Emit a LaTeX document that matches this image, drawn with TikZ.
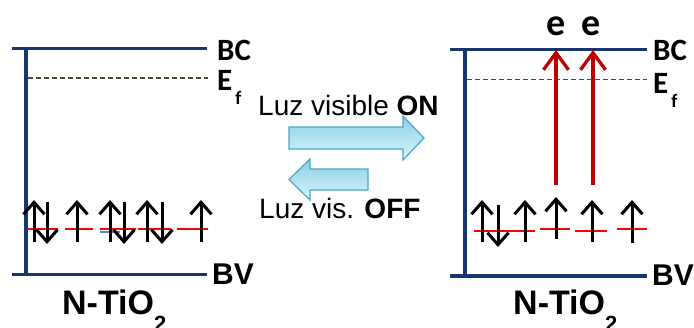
\documentclass[tikz,border=0pt]{standalone}
\usepackage{fontspec}
\setmainfont{Liberation Sans}
\newfontfamily\calib{Carlito}
\usetikzlibrary{arrows.meta}
\definecolor{navy}{RGB}{23,54,110}
\definecolor{olivegray}{RGB}{80,74,52}
\definecolor{darkred}{RGB}{192,0,0}
\definecolor{lvlred}{RGB}{255,0,0}
\definecolor{lvlblue}{RGB}{84,130,190}
\definecolor{arrtop}{RGB}{138,208,228}
\definecolor{arrbot}{RGB}{218,245,252}
\definecolor{arrline}{RGB}{72,168,196}
\begin{document}
\begin{tikzpicture}[x=1pt,y=-1pt,
  band/.style={draw=navy,line width=3.5pt},
  fermi/.style={draw=olivegray,line width=1.5pt,dash pattern=on 5pt off 3pt},
  lvl/.style={draw=lvlred,line width=2pt},
  espin/.style={draw=black,line width=3pt,-{Straight Barb[length=12pt,width=21pt]}},
  excite/.style={draw=darkred,line width=3.3pt,-{Straight Barb[length=17pt,width=25pt]}},
  blockarrow/.style={top color=arrtop,bottom color=arrbot,draw=arrline,line width=1.2pt,line join=miter},
  clab/.style={inner sep=0pt,anchor=base west,font=\calib\bfseries\fontsize{31}{31}\selectfont},
  alab/.style={inner sep=0pt,anchor=base west,font=\bfseries\fontsize{30}{30}\selectfont},
  tlab/.style={inner sep=0pt,anchor=base west,font=\bfseries\fontsize{34}{34}\selectfont},
  luz/.style={inner sep=0pt,anchor=base west,font=\fontsize{28}{28}\selectfont},
  elab/.style={inner sep=0pt,anchor=base,font=\calib\bfseries\fontsize{38}{38}\selectfont}]
\useasboundingbox (0,0) rectangle (694,327);

% ---------- left diagram ----------
\draw[band] (12,48.5) -- (207,48.5);
\draw[band] (12,274.5) -- (207,274.5);
\draw[band] (26,48.5) -- (26,274.5);
\draw[fermi] (28,78) -- (208,78);

\draw[lvl] (27,229) -- (58,229);
\draw[lvl] (65,229) -- (93,229);
\draw[lvl] (100,229) -- (136,229);
\draw[draw=lvlblue,line width=2pt] (100,232) -- (120,232);
\draw[lvl] (138,229) -- (171,229);
\draw[lvl] (177,229) -- (208,229);

\draw[espin] (34,242) -- (34,200);
\draw[espin] (47,202) -- (47,244);
\draw[espin] (77,242) -- (77,200);
\draw[espin] (110,242) -- (110,200);
\draw[espin] (124,202) -- (124,244);
\draw[espin] (147,242) -- (147,200);
\draw[espin] (162,202) -- (162,244);
\draw[espin] (201,242) -- (201,200);

\node[clab] (bcL) at (217,60) {BC};
\node[clab] (efL) at (217,90) {E\kern3pt\raisebox{-14pt}{\fontsize{19}{19}\selectfont f}};
\node[alab] (bvL) at (212,284) {BV};
\node[tlab] (tiL) at (62,314) {N-TiO\raisebox{-17pt}{\fontsize{22}{22}\selectfont 2}};

% ---------- middle ----------
\shade[blockarrow] (289,127) -- (403,127) -- (403,116) -- (424,138) -- (403,160) -- (403,149) -- (289,149) -- cycle;
\shade[blockarrow] (368,169) -- (310,169) -- (310,159) -- (289,179.5) -- (310,200) -- (310,190) -- (368,190) -- cycle;
\node[luz] (on) at (258,115) {Luz visible \textbf{ON}};
\node[luz] (off) at (259,218) {Luz vis. \textbf{OFF}};

% ---------- right diagram ----------
\draw[band] (450,49.5) -- (647,49.5);
\draw[band] (450,276) -- (647,276);
\draw[band] (465,49.5) -- (465,276);
\draw[fermi] (467,79.5) -- (647,79.5);

\draw[lvl] (474,230.5) -- (535,230.5);
\draw[lvl] (540,229) -- (570,229);
\draw[lvl] (575,230.5) -- (607,230.5);
\draw[lvl] (617,229) -- (647,229);

\draw[espin] (482,242) -- (482,200);
\draw[espin] (498,205) -- (498,247);
\draw[espin] (525,242) -- (525,200);
\draw[espin] (556,239) -- (556,197);
\draw[espin] (592,242) -- (592,200);
\draw[espin] (632,243) -- (632,200);

\coordinate (x1b) at (556,185);
\coordinate (x1t) at (556,50);
\coordinate (x2b) at (593,185);
\coordinate (x2t) at (593,50);
\draw[excite] (x1b) -- (x1t);
\draw[excite] (x2b) -- (x2t);

\node[elab] (e1) at (556.5,35) {e};
\node[elab] (e2) at (591.5,35) {e};

\node[clab] (bcR) at (653,60) {BC};
\node[clab] (efR) at (653,93) {E\kern3pt\raisebox{-14pt}{\fontsize{19}{19}\selectfont f}};
\node[alab] (bvR) at (652,285) {BV};
\node[tlab] (tiR) at (513,314) {N-TiO\raisebox{-17pt}{\fontsize{22}{22}\selectfont 2}};
\end{tikzpicture}
\end{document}
